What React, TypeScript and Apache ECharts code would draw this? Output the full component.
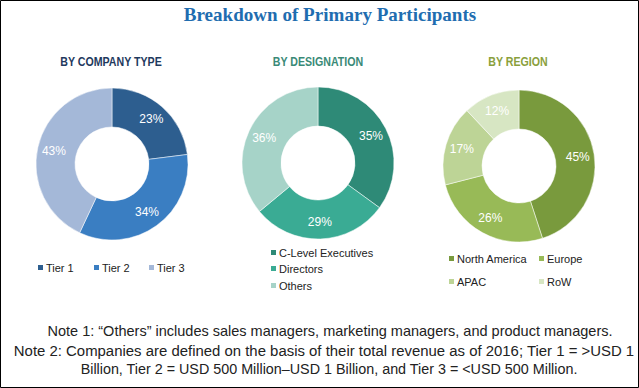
import React, { useEffect, useRef } from "react";
import * as echarts from "echarts";

const companyTypes = ["Tier 1", "Tier 2", "Tier 3"];
const companyValues = [23, 34, 43];
const designations = ["C-Level Executives", "Directors", "Others"];
const designationValues = [35, 29, 36];
const regions = ["North America", "Europe", "APAC", "RoW"];
const regionValues = [45, 26, 17, 12];

const companyColors = ["#2d5e8f", "#3a7ec2", "#a4b8d8"];
const designationColors = ["#2e8a77", "#3aab94", "#a6d3c8"];
const regionColors = ["#799a3d", "#98ba57", "#bdd496", "#d7e6c3"];

const mainTitle = "Breakdown of Primary Participants";
const subTitles = ["BY COMPANY TYPE", "BY DESIGNATION", "BY REGION"];
const note1 = "Note 1: \u201cOthers\u201d includes sales managers, marketing managers, and product managers.";
const note2a = "Note 2: Companies are defined on the basis of their total revenue as of 2016; Tier 1 = >USD 1";
const note2b = "Billion, Tier 2 = USD 500 Million\u2013USD 1 Billion, and Tier 3 = <USD 500 Million.";

const SANS = "'Liberation Sans', Arial, sans-serif";

function pieSeries(name: string, names: string[], values: number[], colors: string[], center: [number, number]) {
  return {
    type: "pie",
    name,
    center,
    radius: [37, 76],
    startAngle: 90,
    clockwise: true,
    avoidLabelOverlap: false,
    silent: true,
    itemStyle: { borderColor: "#ffffff", borderWidth: 0.5 },
    label: {
      show: true,
      position: "inside",
      formatter: "{c}%",
      color: "#ffffff",
      fontSize: 12,
      fontFamily: SANS,
    },
    labelLine: { show: false },
    data: names.map((n, i) => ({ name: n, value: values[i], itemStyle: { color: colors[i] } })),
  };
}

function legendItem(name: string, left: number, top: number) {
  return {
    data: [name],
    left,
    top,
    orient: "horizontal",
    icon: "rect",
    itemWidth: 7,
    itemHeight: 7,
    itemGap: 4,
    padding: 0,
    selectedMode: false,
    textStyle: { fontSize: 11, color: "#222222", fontFamily: SANS, padding: [0, 0, 0, -3] },
  };
}

function subTitle(text: string, x: number, color: string) {
  return {
    type: "text",
    x,
    y: 61,
    scaleX: 0.85,
    style: { text, fill: color, font: "bold 12.5px " + SANS, align: "center", verticalAlign: "middle" },
  };
}

function noteText(text: string, x: number, y: number, scaleX: number) {
  return {
    type: "text",
    x,
    y,
    scaleX,
    style: { text, fill: "#222222", font: "14.5px " + SANS, align: "center", verticalAlign: "middle" },
  };
}

export default function App() {
  const ref = useRef<HTMLDivElement>(null);
  useEffect(() => {
    if (!ref.current) return;
    const chart = echarts.init(ref.current, undefined, { renderer: "svg" });
    const option = {
      animation: false,
      backgroundColor: "#ffffff",
      legend: [
        legendItem(companyTypes[0], 36, 262),
        legendItem(companyTypes[1], 92, 262),
        legendItem(companyTypes[2], 147, 262),
        legendItem(designations[0], 269, 247),
        legendItem(designations[1], 269, 263),
        legendItem(designations[2], 269, 280),
        legendItem(regions[0], 447, 253),
        legendItem(regions[1], 537, 253),
        legendItem(regions[2], 447, 276),
        legendItem(regions[3], 537, 276),
      ],
      series: [
        pieSeries("company", companyTypes, companyValues, companyColors, [112, 164]),
        pieSeries("designation", designations, designationValues, designationColors, [318, 163]),
        pieSeries("region", regions, regionValues, regionColors, [519, 166]),
      ],
      graphic: [
        {
          type: "rect",
          shape: { x: 0.5, y: 0.5, width: 638, height: 387 },
          style: { fill: "none", stroke: "#000000", lineWidth: 1 },
          silent: true,
        },
        {
          type: "text",
          x: 330,
          y: 15,
          scaleX: 1.06,
          style: {
            text: mainTitle,
            fill: "#1f6db0",
            font: "bold 18px 'Liberation Serif', 'Times New Roman', serif",
            align: "center",
            verticalAlign: "middle",
          },
        },
        subTitle(subTitles[0], 111, "#1f3a5e"),
        subTitle(subTitles[1], 318, "#3a8a77"),
        subTitle(subTitles[2], 518, "#8aa03c"),
        noteText(note1, 330, 331, 1.0),
        noteText(note2a, 324, 351, 1.03),
        noteText(note2b, 329, 369, 0.99),
      ],
    };
    chart.setOption(option as any);
    return () => chart.dispose();
  }, []);
  return (
    <div
      ref={ref}
      style={{ position: "fixed", left: 0, top: 0, width: 639, height: 388, background: "#fff" }}
    />
  );
}
